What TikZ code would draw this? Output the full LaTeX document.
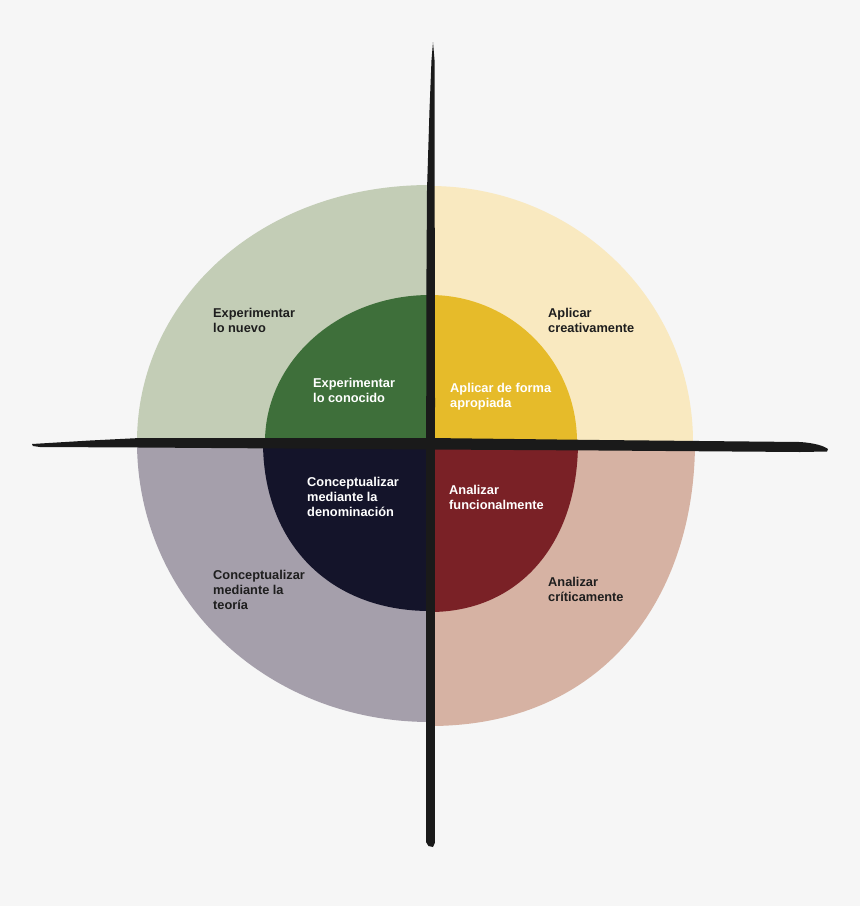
\documentclass[tikz,border=0pt]{standalone}
\usepackage{fontspec}
\setmainfont{Liberation Sans}
\definecolor{bg}{HTML}{F6F6F6}
\definecolor{tlout}{HTML}{C3CDB6}
\definecolor{tlin}{HTML}{3E6F3A}
\definecolor{trout}{HTML}{F9E9C0}
\definecolor{trin}{HTML}{E6BB2A}
\definecolor{blout}{HTML}{A59FAB}
\definecolor{blin}{HTML}{14142A}
\definecolor{brout}{HTML}{D6B2A3}
\definecolor{brin}{HTML}{7A2126}
\definecolor{ink}{HTML}{1A1A1A}
\definecolor{labeldark}{HTML}{1E1E1E}
\begin{document}
\begin{tikzpicture}[x=1pt,y=-1pt,
  lbl/.style={anchor=base west, inner sep=0pt, font=\fontsize{12.8}{15.3}\selectfont\bfseries},
  darklbl/.style={lbl, text=labeldark},
  lightlbl/.style={lbl, text=white}]
\useasboundingbox (0,0) rectangle (860,906);
\fill[bg] (0,0) rectangle (860,906);
% outer quadrants
\fill[tlout] (430,442) -- (137,442) .. controls (137,302) and (258,185) .. (430,185) -- cycle;
\fill[trout] (430,442) -- (430,186) .. controls (575.3,186) and (693,300.6) .. (693,442) -- cycle;
\fill[brout] (430,442) -- (695,442) .. controls (695,596) and (605,726) .. (430,726) -- cycle;
\fill[blout] (430,442) -- (430,722) .. controls (265,722) and (137,598) .. (137,442) -- cycle;
% inner quadrants
\fill[tlin] (430,442) -- (265,442) .. controls (265,360.8) and (338.9,295) .. (430,295) -- cycle;
\fill[trin] (430,442) -- (430,295) .. controls (511.2,295) and (577,360.8) .. (577,442) -- cycle;
\fill[brin] (430,442) -- (578,442) .. controls (578,544) and (518.8,612) .. (430,612) -- cycle;
\fill[blin] (430,442) -- (430,611) .. controls (329.8,611) and (263,543.4) .. (263,442) -- cycle;
% axes (brush strokes)
\fill[ink] (32,444) -- (90,440.5) -- (140,438) -- (430,438) -- (600,440) -- (800,442)
  .. controls (815,443) and (824,446) .. (828,449) -- (827,451.5) -- (800,452) -- (600,450.5)
  -- (430,449.5) -- (140,447.5) -- (40,447) -- (33,446) -- cycle;
\fill[ink] (433,42) -- (434.5,60) -- (435,400) -- (434.8,843) -- (433,847) -- (428.5,846)
  -- (426,842) -- (426.3,300) -- (427,190) -- (429.5,110) -- (431.5,60) -- cycle;
% labels
\node[darklbl] (tlo) at (213,317) {\begin{tabular}[t]{@{}l@{}}Experimentar\\lo nuevo\end{tabular}};
\node[lightlbl] (tli) at (313,387) {\begin{tabular}[t]{@{}l@{}}Experimentar\\lo conocido\end{tabular}};
\node[darklbl] (tro) at (548,317) {\begin{tabular}[t]{@{}l@{}}Aplicar\\creativamente\end{tabular}};
\node[lightlbl] (tri) at (450,392) {\begin{tabular}[t]{@{}l@{}}Aplicar de forma\\apropiada\end{tabular}};
\node[lightlbl] (bli) at (307,486) {\begin{tabular}[t]{@{}l@{}}Conceptualizar\\mediante la\\denominación\end{tabular}};
\node[lightlbl] (bri) at (449,494) {\begin{tabular}[t]{@{}l@{}}Analizar\\funcionalmente\end{tabular}};
\node[darklbl] (blo) at (213,579) {\begin{tabular}[t]{@{}l@{}}Conceptualizar\\mediante la\\teoría\end{tabular}};
\node[darklbl] (bro) at (548,586) {\begin{tabular}[t]{@{}l@{}}Analizar\\críticamente\end{tabular}};
\end{tikzpicture}
\end{document}
